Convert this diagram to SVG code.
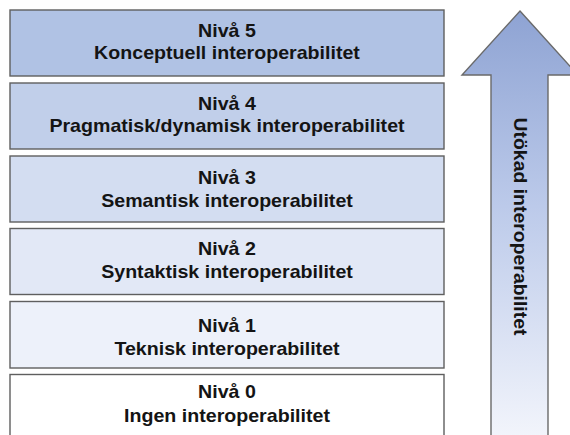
<svg xmlns="http://www.w3.org/2000/svg" width="570" height="435" viewBox="0 0 570 435">
<defs>
<linearGradient id="ag" x1="0" y1="0" x2="0" y2="1" gradientUnits="objectBoundingBox">
<stop offset="0" stop-color="#8ea3d3"/>
<stop offset="0.45" stop-color="#bccaea"/>
<stop offset="1" stop-color="#f4f6fc"/>
</linearGradient>
<style>
.box{stroke:#5f5f5f;stroke-width:1.4}
.t{font-family:"Liberation Sans",Arial,sans-serif;font-weight:bold;font-size:18px;fill:#141414;text-anchor:middle}
</style>
</defs>
<rect width="570" height="435" fill="#ffffff"/>
<g id="niva5"><rect class="box" x="10" y="10" width="434" height="66" fill="#b0c2e4"/>
<text class="t" transform="translate(227,37) scale(1.09,1)">Nivå 5</text>
<text class="t" transform="translate(227,59) scale(1.09,1)">Konceptuell interoperabilitet</text></g>
<g id="niva4"><rect class="box" x="10" y="83" width="434" height="66" fill="#c1cfea"/>
<text class="t" transform="translate(227,110) scale(1.09,1)">Nivå 4</text>
<text class="t" transform="translate(227,132) scale(1.09,1)">Pragmatisk/dynamisk interoperabilitet</text></g>
<g id="niva3"><rect class="box" x="10" y="156" width="434" height="66" fill="#d3ddf1"/>
<text class="t" transform="translate(227,184) scale(1.09,1)">Nivå 3</text>
<text class="t" transform="translate(227,207) scale(1.09,1)">Semantisk interoperabilitet</text></g>
<g id="niva2"><rect class="box" x="10" y="228.5" width="434" height="66" fill="#e2e8f6"/>
<text class="t" transform="translate(227,255) scale(1.09,1)">Nivå 2</text>
<text class="t" transform="translate(227,278) scale(1.09,1)">Syntaktisk interoperabilitet</text></g>
<g id="niva1"><rect class="box" x="10" y="301.5" width="434" height="66.5" fill="#edf1fa"/>
<text class="t" transform="translate(227,332) scale(1.09,1)">Nivå 1</text>
<text class="t" transform="translate(227,355) scale(1.09,1)">Teknisk interoperabilitet</text></g>
<g id="niva0"><rect class="box" x="10" y="374.5" width="434" height="70" fill="#ffffff"/>
<text class="t" transform="translate(227,398) scale(1.09,1)">Nivå 0</text>
<text class="t" transform="translate(227,422) scale(1.09,1)">Ingen interoperabilitet</text></g>
<g id="pil">
<path d="M520,11 L578,75 L548,75 L548,445 L491,445 L491,75 L462,75 Z" fill="url(#ag)" stroke="#6a6a6a" stroke-width="1.4" stroke-linejoin="miter"/>
<text class="t" transform="translate(514,226.5) rotate(90) scale(1.08,1)">Utökad interoperabilitet</text>
</g>
</svg>
